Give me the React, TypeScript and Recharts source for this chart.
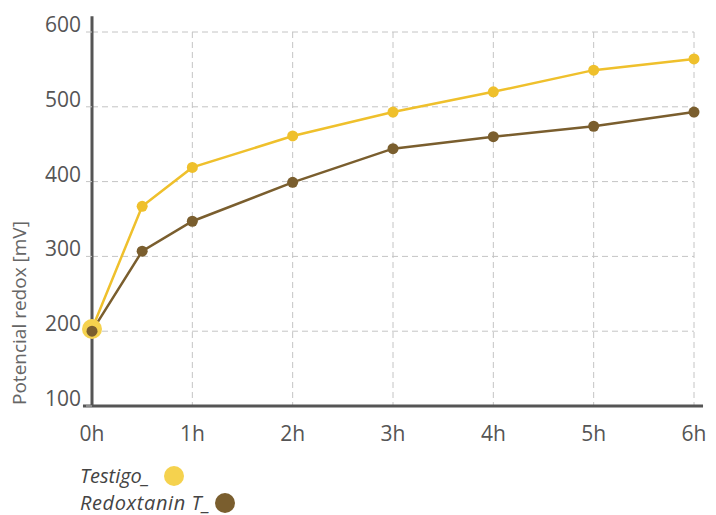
import { LineChart, Line, XAxis, YAxis, CartesianGrid, ReferenceLine } from "recharts";

// horas de medición
const hours = [0, 0.5, 1, 2, 3, 4, 5, 6];
const testigo = [203, 367, 419, 461, 493, 520, 549, 564];
const redoxtanin = [200, 307, 347, 399, 444, 460, 474, 493];

const xTicks = [0, 1, 2, 3, 4, 5, 6];
const yTicks = [100, 200, 300, 400, 500, 600];

const YELLOW = "#EFC02C";
const YELLOW_LIGHT = "#F5D24E";
const BROWN = "#7A5E2E";
const AXIS = "#555555";
const FONT = "'Open Sans', sans-serif";

const data = hours.map((h, i) => ({
  hora: h,
  testigo: testigo[i],
  redoxtanin: redoxtanin[i],
}));

const YTick = (props: any) => (
  <text
    x={props.x}
    y={props.y}
    textAnchor="end"
    fill={AXIS}
    fontSize={21}
    fontFamily={FONT}
  >
    {props.payload.value}
  </text>
);

const YLabel = (props: any) => {
  const vb = props.viewBox;
  const x = vb.x + 26;
  const y = vb.y + vb.height - 1;
  return (
    <text
      x={x}
      y={y}
      transform={`rotate(-90 ${x} ${y})`}
      textAnchor="start"
      fill="#666"
      fontSize={19}
      fontFamily={FONT}
    >
      Potencial redox [mV]
    </text>
  );
};

const TestigoDot = (props: any) => {
  const { cx, cy, index } = props;
  if (index === 0) {
    return <circle key={`d-${index}`} cx={cx} cy={cy} r={10} fill={YELLOW_LIGHT} />;
  }
  return <circle key={`d-${index}`} cx={cx} cy={cy} r={5.5} fill={YELLOW} />;
};

const Swatch = ({ color, gap }: { color: string; gap: number }) => (
  <span
    style={{
      display: "inline-block",
      width: 20,
      height: 20,
      borderRadius: 10,
      background: color,
      marginLeft: gap,
    }}
  />
);

export default function App() {
  return (
    <div
      style={{
        position: "absolute",
        left: 0,
        top: 0,
        width: 716,
        height: 515,
        background: "#fff",
        overflow: "hidden",
      }}
    >
      <LineChart
        width={716}
        height={515}
        data={data}
        margin={{ top: 32, right: 22, left: 0, bottom: 69 }}
      >
        <CartesianGrid stroke="#c4c4c4" strokeDasharray="6 4" />
        <XAxis
          dataKey="hora"
          type="number"
          domain={[0, 6]}
          ticks={xTicks}
          tickFormatter={(v) => `${v}h`}
          axisLine={false}
          tickLine={false}
          tickSize={0}
          tickMargin={20}
          height={40}
          tick={{ fill: AXIS, fontSize: 21, fontFamily: FONT }}
        />
        <YAxis
          type="number"
          domain={[100, 600]}
          ticks={yTicks}
          width={92}
          axisLine={false}
          tickSize={6}
          tickMargin={5}
          tickLine={{ stroke: "#c4c4c4", strokeDasharray: "6 4" }}
          tick={<YTick />}
          label={<YLabel />}
        />
        <ReferenceLine
          segment={[
            { x: 0, y: 100 },
            { x: 0, y: 621 },
          ]}
          stroke={AXIS}
          strokeWidth={3}
          ifOverflow="visible"
        />
        <ReferenceLine
          segment={[
            { x: -0.09, y: 100 },
            { x: 6.09, y: 100 },
          ]}
          stroke={AXIS}
          strokeWidth={3}
          ifOverflow="visible"
        />
        <Line
          dataKey="testigo"
          stroke={YELLOW}
          strokeWidth={2.5}
          dot={TestigoDot}
          isAnimationActive={false}
        />
        <Line
          dataKey="redoxtanin"
          stroke={BROWN}
          strokeWidth={2.5}
          dot={{ r: 5.5, fill: BROWN, stroke: "none" }}
          isAnimationActive={false}
        />
      </LineChart>

      {/* leyenda */}
      <div
        style={{
          position: "absolute",
          left: 80,
          top: 462,
          fontFamily: FONT,
          fontStyle: "italic",
          fontSize: 20,
          color: "#444",
          lineHeight: "26px",
        }}
      >
        <div style={{ display: "flex", alignItems: "center", height: 28 }}>
          <span>Testigo_</span>
          <Swatch color={YELLOW_LIGHT} gap={14} />
        </div>
        <div style={{ display: "flex", alignItems: "center", height: 26 }}>
          <span style={{ letterSpacing: 0.6 }}>Redoxtanin T_</span>
          <Swatch color={BROWN} gap={4} />
        </div>
      </div>
    </div>
  );
}
